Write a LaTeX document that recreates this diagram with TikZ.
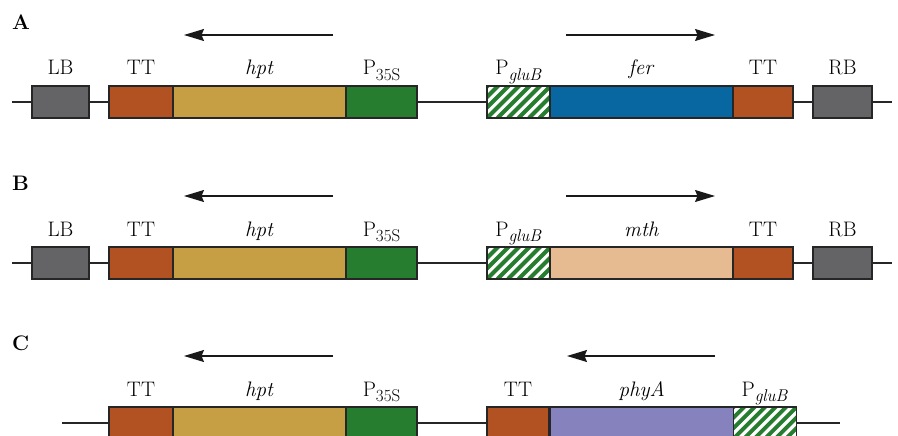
\documentclass[tikz,border=0pt]{standalone}
\usetikzlibrary{arrows.meta,positioning}
\definecolor{BorderGray}{RGB}{100,100,102}
\definecolor{TermRed}{RGB}{178,82,34}
\definecolor{HptGold}{RGB}{198,158,68}
\definecolor{PromGreen}{RGB}{38,125,48}
\definecolor{FerBlue}{RGB}{8,102,160}
\definecolor{MthPeach}{RGB}{230,187,145}
\definecolor{PhyLilac}{RGB}{134,130,190}
\newcommand{\gsub}[1]{\raisebox{-5.5pt}{\fontsize{17}{19}\selectfont #1}}

\begin{document}
\begin{tikzpicture}[x=1pt, y=-1pt,
		box/.style={draw=black!85, line width=1.1pt, minimum height=32pt, inner sep=0pt, outer sep=0pt, anchor=west},
		hatchbox/.style={box, fill=white, path picture={
				\foreach \k in {-4,...,7}
				\draw[PromGreen, line width=3.9pt] ([xshift=\k*10.5pt]path picture bounding box.south west) -- ++(45:60pt);}},
		lab/.style={anchor=base, inner sep=0pt, font=\fontsize{21}{24}\selectfont},
		tag/.style={anchor=base west, inner sep=0pt, font=\fontsize{21}{24}\selectfont\bfseries},
		dir/.style={line width=1.2pt, black!90, -{Stealth[length=20pt, width=12pt, inset=2.5pt]}},
		backbone/.style={line width=1.2pt, black!85}
	]
	\useasboundingbox (0,0) rectangle (898,436);
	
	% 构建体 A
	\node[tag] (tagA) at (12,30) {A};
	\coordinate (startA) at (12,102);
	\coordinate (endA) at (892,102);
	\draw[backbone] (startA) -- (endA);
	\node[box, fill=BorderGray, minimum width=57pt] (lbA) at (32,102) {};
	\node[box, fill=TermRed, minimum width=64pt] (ttA) at (109,102) {};
	\node[box, fill=HptGold, minimum width=173pt, right=0pt of ttA] (hptA) {};
	\node[box, fill=PromGreen, minimum width=71pt, right=0pt of hptA] (psA) {};
	\node[hatchbox, minimum width=63pt] (gluA) at (487,102) {};
	\node[box, fill=FerBlue, minimum width=183pt, right=0pt of gluA] (ferA) {};
	\node[box, fill=TermRed, minimum width=60pt, right=0pt of ferA] (ttrA) {};
	\node[box, fill=BorderGray, minimum width=59pt] (rbA) at (813,102) {};
	
	\node[lab] at ([yshift=11pt]lbA.north) {LB};
	\node[lab] at ([yshift=11pt]ttA.north) {TT};
	\node[lab] at ([yshift=11pt]hptA.north) {\textit{hpt}};
	\node[lab] at ([yshift=11pt]psA.north) {P\gsub{35S}};
	\node[lab] at ([yshift=11pt]gluA.north) {P\gsub{\textit{gluB}}};
	\node[lab] at ([yshift=11pt]ferA.north) {\textit{fer}};
	\node[lab] at ([yshift=11pt]ttrA.north) {TT};
	\node[lab] at ([yshift=11pt]rbA.north) {RB};
	
	\coordinate (hptTailA) at (333,35);
	\coordinate (hptHeadA) at (184,35);
	\coordinate (ferTailA) at (566,35);
	\coordinate (ferHeadA) at (715,35);
	\draw[dir] (hptTailA) -- (hptHeadA);
	\draw[dir] (ferTailA) -- (ferHeadA);
	
	% 构建体 B
	\node[tag] (tagB) at (12,190) {B};
	\coordinate (startB) at (12,263);
	\coordinate (endB) at (892,263);
	\draw[backbone] (startB) -- (endB);
	\node[box, fill=BorderGray, minimum width=57pt] (lbB) at (32,263) {};
	\node[box, fill=TermRed, minimum width=64pt] (ttB) at (109,263) {};
	\node[box, fill=HptGold, minimum width=173pt, right=0pt of ttB] (hptB) {};
	\node[box, fill=PromGreen, minimum width=71pt, right=0pt of hptB] (psB) {};
	\node[hatchbox, minimum width=63pt] (gluB) at (487,263) {};
	\node[box, fill=MthPeach, minimum width=183pt, right=0pt of gluB] (mthB) {};
	\node[box, fill=TermRed, minimum width=60pt, right=0pt of mthB] (ttrB) {};
	\node[box, fill=BorderGray, minimum width=59pt] (rbB) at (813,263) {};
	
	\node[lab] at ([yshift=11pt]lbB.north) {LB};
	\node[lab] at ([yshift=11pt]ttB.north) {TT};
	\node[lab] at ([yshift=11pt]hptB.north) {\textit{hpt}};
	\node[lab] at ([yshift=11pt]psB.north) {P\gsub{35S}};
	\node[lab] at ([yshift=11pt]gluB.north) {P\gsub{\textit{gluB}}};
	\node[lab] at ([yshift=11pt]mthB.north) {\textit{mth}};
	\node[lab] at ([yshift=11pt]ttrB.north) {TT};
	\node[lab] at ([yshift=11pt]rbB.north) {RB};
	
	\coordinate (hptTailB) at (333,196);
	\coordinate (hptHeadB) at (184,196);
	\coordinate (mthTailB) at (566,196);
	\coordinate (mthHeadB) at (715,196);
	\draw[dir] (hptTailB) -- (hptHeadB);
	\draw[dir] (mthTailB) -- (mthHeadB);
	
	% 构建体 C
	\node[tag] (tagC) at (12,350) {C};
	\coordinate (startC) at (62,423);
	\coordinate (endC) at (840,423);
	\draw[backbone] (startC) -- (endC);
	\node[box, fill=TermRed, minimum width=64pt] (ttC) at (109,423) {};
	\node[box, fill=HptGold, minimum width=173pt, right=0pt of ttC] (hptC) {};
	\node[box, fill=PromGreen, minimum width=71pt, right=0pt of hptC] (psC) {};
	\node[box, fill=TermRed, minimum width=62pt] (ttrC) at (487,423) {};
	\node[box, fill=PhyLilac, minimum width=183pt, right=1.2pt of ttrC] (phyC) {};
	\node[hatchbox, minimum width=63pt, right=0pt of phyC] (gluC) {};
	
	\node[lab] at ([yshift=11pt]ttC.north) {TT};
	\node[lab] at ([yshift=11pt]hptC.north) {\textit{hpt}};
	\node[lab] at ([yshift=11pt]psC.north) {P\gsub{35S}};
	\node[lab] at ([yshift=11pt]ttrC.north) {TT};
	\node[lab] at ([yshift=11pt]phyC.north) {\textit{phyA}};
	\node[lab] at ([yshift=11pt]gluC.north) {P\gsub{\textit{gluB}}};
	
	\coordinate (hptTailC) at (333,356);
	\coordinate (hptHeadC) at (184,356);
	\coordinate (phyTailC) at (715,356);
	\coordinate (phyHeadC) at (567,356);
	\draw[dir] (hptTailC) -- (hptHeadC);
	\draw[dir] (phyTailC) -- (phyHeadC);
\end{tikzpicture}
\end{document}
